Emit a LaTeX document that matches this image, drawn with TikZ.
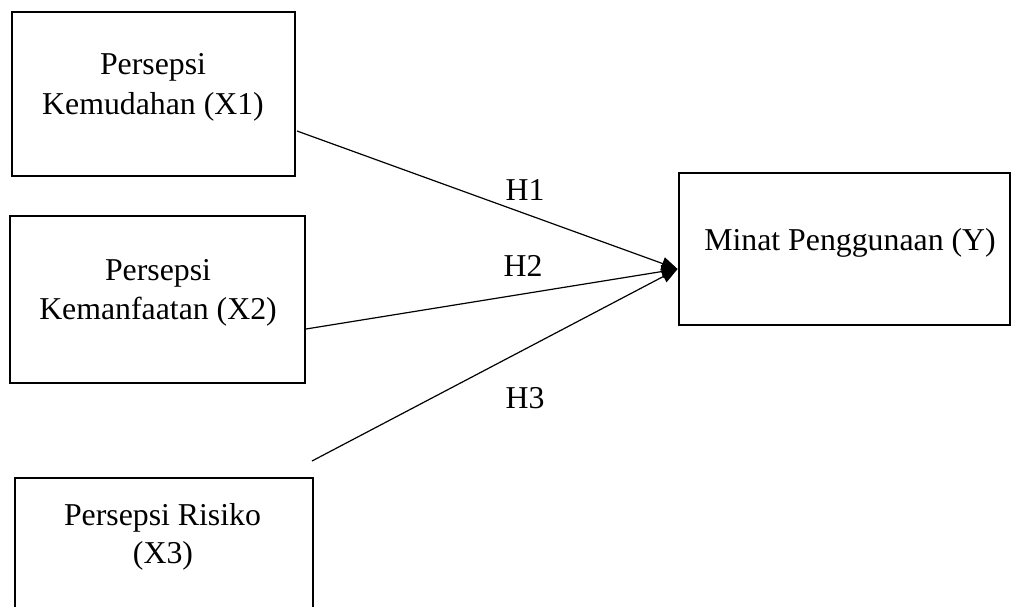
\documentclass[tikz,border=0pt]{standalone}
\usepackage{fontspec}
\setmainfont{Liberation Serif}
\usetikzlibrary{arrows.meta,calc}
\begin{document}
\begin{tikzpicture}[x=1pt,y=-1pt,
  box/.style={draw,line width=2.8pt,rectangle,inner sep=0pt},
  lbl/.style={anchor=base,inner sep=0pt,font=\fontsize{31.8}{38}\selectfont},
  link/.style={line width=1.2pt,-{Triangle[length=16pt,width=13pt]}}]
\clip (0,0) rectangle (1011,607);
% boxes
\node[box,minimum width=283pt,minimum height=164pt] (x1) at (153.5,94) {};
\node[box,minimum width=295pt,minimum height=167pt] (x2) at (157.5,299.5) {};
\node[box,minimum width=298pt,minimum height=162pt] (x3) at (164,559) {};
\node[box,minimum width=331pt,minimum height=152pt] (y) at (844.5,249) {};
% texts
\node[lbl] (x1a) at (153,75) {Persepsi};
\node[lbl] (x1b) at (153,115) {Kemudahan (X1)};
\node[lbl] (x2a) at (158,280) {Persepsi};
\node[lbl] (x2b) at (158,319) {Kemanfaatan (X2)};
\node[lbl] (x3a) at (162.5,525) {Persepsi Risiko};
\node[lbl] (x3b) at (163,563) {(X3)};
\node[lbl] (ya) at (850,250) {Minat Penggunaan (Y)};
% connector ends
\coordinate (s1) at (297,131);
\coordinate (s2) at (306,329);
\coordinate (s3) at (312,461);
\coordinate (t) at ($(y.west)+(0,20)$);
\draw[link] (s1) -- (t);
\draw[link] (s2) -- (t);
\draw[link] (s3) -- (t);
% hypothesis labels
\node[lbl] (h1) at (525,200.5) {H1};
\node[lbl] (h2) at (523,276.5) {H2};
\node[lbl] (h3) at (525,408) {H3};
\end{tikzpicture}
\end{document}
